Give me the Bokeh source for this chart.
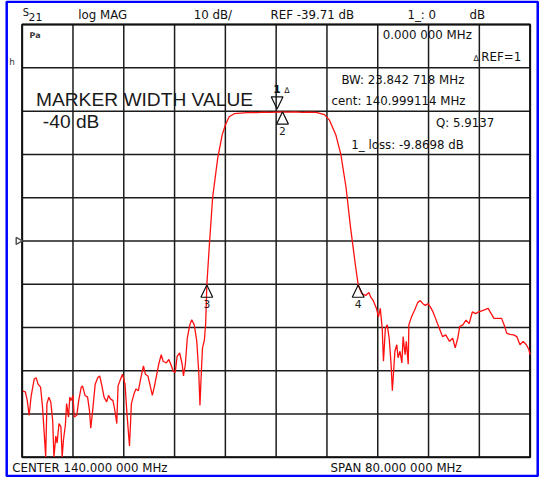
import math
from bokeh.plotting import figure
from bokeh.models import Label, BoxAnnotation, Range1d
from bokeh.embed import file_html
from bokeh.resources import INLINE

CENTER_MHZ = 140.0
SPAN_MHZ = 80.0
REF_DB = -39.71
SCALE_DB = 10.0
NDIV = 10

FREQ_MHZ = [
    100.1, 100.5, 100.8, 101.1, 101.4, 101.9, 102.2, 102.5, 102.9, 103.2,
    103.5, 103.7, 103.9, 104.2, 104.5, 104.8, 105.0, 105.3, 105.5, 105.8,
    106.1, 106.3, 106.5, 106.8, 107.0, 107.3, 107.5, 107.7, 108.0, 108.2,
    108.6, 108.9, 109.3, 109.5, 109.9, 110.3, 110.6, 110.8, 111.1, 111.5,
    111.9, 112.2, 112.5, 112.9, 113.3, 113.6, 113.9, 114.3, 114.6, 114.9,
    115.1, 115.5, 115.8, 116.2, 116.5, 116.9, 117.2, 117.6, 117.9, 118.3,
    118.7, 119.1, 119.4, 119.8, 120.1, 120.5, 120.8, 121.2, 121.5, 121.9,
    122.2, 122.7, 123.1, 123.4, 123.8, 124.1, 124.4, 124.8, 125.2, 125.4,
    125.7, 126.0, 126.4, 126.7, 127.1, 127.5, 127.8, 128.0, 128.2, 128.4,
    128.7, 128.9, 129.0, 129.08, 129.5, 130.0, 130.8, 131.5, 132.0, 132.6,
    133.4, 134.9, 136.0, 137.0, 138.0, 139.0, 140.15, 141.0, 142.0, 143.0,
    144.0, 145.0, 146.3, 147.6, 148.4, 149.4, 150.2, 151.0, 151.7, 152.5,
    152.92, 153.5, 154.1, 154.6, 154.9, 155.3, 155.8, 156.1, 156.4, 156.7,
    156.9, 157.2, 157.5, 157.8, 158.1, 158.3, 158.5, 158.7, 159.0, 159.2,
    159.5, 159.8, 160.0, 160.3, 160.5, 160.8, 160.9, 161.3, 161.8, 162.3,
    162.7, 163.1, 163.5, 163.9, 164.3, 164.7, 165.1, 165.4, 165.8, 166.2,
    166.7, 167.3, 167.8, 168.2, 168.6, 168.9, 169.4, 169.9, 170.4, 170.9,
    171.4, 171.9, 172.7, 173.4, 173.7, 174.3, 174.9, 175.5, 176.0, 176.3,
    176.8, 177.4, 177.9, 178.4, 178.9, 179.4, 179.8, 180.0,
]
S21_DB = [
    -74.4, -74.6, -76.6, -80.0, -75.7, -71.6, -71.3, -72.8, -73.5, -78.0,
    -84.8, -89.6, -77.3, -75.8, -76.9, -81.1, -89.6, -84.8, -86.4, -81.9,
    -82.6, -89.6, -85.7, -82.3, -77.3, -80.4, -75.8, -76.6, -75.4, -80.4,
    -80.0, -76.6, -73.5, -73.2, -75.4, -75.8, -78.9, -83.0, -78.9, -72.8,
    -71.3, -70.9, -72.8, -75.8, -76.9, -75.4, -76.2, -76.6, -78.9, -81.9,
    -73.2, -71.6, -70.5, -72.8, -79.6, -87.1, -77.3, -75.1, -73.9, -74.3,
    -71.3, -68.6, -70.5, -70.9, -72.8, -75.4, -73.5, -70.5, -68.2, -66.0,
    -67.5, -67.9, -67.1, -68.2, -69.8, -70.1, -66.4, -65.6, -68.2, -70.9,
    -68.2, -62.2, -59.1, -57.9, -59.1, -62.9, -69.8, -77.7, -70.5, -64.4,
    -62.6, -58.8, -54.0, -49.87, -40.2, -29.6, -20.5, -15.2, -12.9, -11.0,
    -10.3, -10.1, -10.0, -10.05, -9.95, -10.0, -9.92, -9.87, -9.95, -9.9,
    -10.0, -9.92, -10.0, -10.5, -11.8, -15.2, -19.8, -27.3, -36.4, -45.5,
    -49.87, -51.9, -52.3, -51.6, -52.7, -53.5, -55.3, -57.3, -55.3, -59.9,
    -67.5, -59.9, -59.1, -62.2, -68.2, -74.3, -69.8, -65.2, -63.7, -66.7,
    -65.2, -67.9, -61.8, -66.0, -62.9, -68.2, -59.1, -57.3, -55.7, -53.9,
    -53.5, -54.2, -54.6, -54.2, -55.0, -56.1, -57.6, -58.8, -60.3, -61.8,
    -61.4, -62.9, -62.2, -64.4, -62.2, -59.5, -59.1, -58.0, -58.8, -56.1,
    -56.5, -56.1, -55.7, -55.3, -56.1, -57.6, -57.6, -57.6, -59.5, -61.0,
    -61.3, -61.4, -61.8, -63.7, -62.9, -63.7, -64.8, -66.0,
]

MARKER_IDS = ["1", "2", "3", "4"]
MARKER_FREQ = [140.15, 141.0, 129.08, 152.92]
MARKER_DB = [-9.92, -9.87, -49.87, -49.87]
MARKER_DOWN = [True, False, False, False]

HEADER = ["log MAG", "10 dB/", "REF -39.71 dB", "1_: 0", "dB"]
PANEL = ["0.000 000 MHz", "REF=1", "BW:  23.842 718 MHz",
         "cent:  140.999114 MHz", "Q: 5.9137", "1_ loss: -9.8698 dB"]
FOOTER = ["CENTER  140.000 000 MHz", "SPAN  80.000 000 MHz"]
NOTE = ["MARKER WIDTH VALUE", "-40 dB"]

# ---------------- derived scales ----------------
f_start = CENTER_MHZ - SPAN_MHZ / 2
f_stop = CENTER_MHZ + SPAN_MHZ / 2
db_top = REF_DB + SCALE_DB * NDIV / 2
db_bot = REF_DB - SCALE_DB * NDIV / 2
FREQ_TICKS = [f_start + i * SPAN_MHZ / NDIV for i in range(NDIV + 1)]
DB_TICKS = [db_bot + i * SCALE_DB for i in range(NDIV + 1)]

# ---------------- layout (reference-screen pixel geometry) ----------------
W, H = 539, 477          # canvas size
RW, RH = 547, 485        # screen size being reproduced
GL, GR, GT, GB = 22.0, 537.5, 24.5, 464.5
XS = (GR - GL) / SPAN_MHZ            # screen px per MHz
YS = (GB - GT) / (db_top - db_bot)   # screen px per dB
x0 = f_start - GL / XS
x1 = x0 + RW / XS
y1 = db_top + GT / YS
y0 = y1 - RH / YS
FS = W / RW   # font scale


def px(x):
    return x0 + x / XS


def py(y):
    return y1 - y / YS


def fsz(s):
    return f"{s * FS:.1f}px"


p = figure(width=W, height=H, x_range=Range1d(x0, x1), y_range=Range1d(y0, y1),
           output_backend="svg", toolbar_location=None, min_border=0,
           x_axis_type=None, y_axis_type=None, outline_line_color=None,
           background_fill_color="white", border_fill_color="white")
p.grid.visible = False

# grid
p.segment(x0=FREQ_TICKS, y0=[db_bot] * len(FREQ_TICKS), x1=FREQ_TICKS,
          y1=[db_top] * len(FREQ_TICKS), line_color="#1c1c1c", line_width=1.5)
p.segment(x0=[f_start] * len(DB_TICKS), y0=DB_TICKS, x1=[f_stop] * len(DB_TICKS),
          y1=DB_TICKS, line_color="#1c1c1c", line_width=1.5)
p.quad(left=[f_start], right=[f_stop], top=[db_top], bottom=[db_bot],
       fill_alpha=0, line_color="#111111", line_width=2)

# trace
p.line(FREQ_MHZ, S21_DB, line_color="#ff1010", line_width=1.3)

# markers
hw = 6.0 / XS
th = 12.5 / YS
gap = 3.0 / YS
xs, ys = [], []
for f, d, dn in zip(MARKER_FREQ, MARKER_DB, MARKER_DOWN):
    if dn:
        xs.append([f - hw, f + hw, f])
        ys.append([d + gap + th, d + gap + th, d + gap])
    else:
        xs.append([f - hw, f + hw, f])
        ys.append([d - th, d - th, d])
p.patches(xs, ys, fill_alpha=0, line_color="#111111", line_width=1.2)

for mid, f, d, dn in zip(MARKER_IDS, MARKER_FREQ, MARKER_DB, MARKER_DOWN):
    if dn:
        ly = d + gap + th + 7.5 / YS
        p.add_layout(Label(x=f, y=ly, text=mid, text_font="DejaVu Sans",
                           text_font_size=fsz(11), text_font_style="bold",
                           text_align="center", text_baseline="middle",
                           text_color="#111111"))
        p.add_layout(Label(x=f + 10 / XS, y=ly - 1 / YS, text="\u0394",
                           text_font="DejaVu Sans", text_font_size=fsz(8),
                           text_align="center", text_baseline="middle",
                           text_color="#111111"))
    else:
        ly = d - th - 7.0 / YS
        p.add_layout(Label(x=f, y=ly, text=mid, text_font="DejaVu Sans",
                           text_font_size=fsz(11), text_align="center",
                           text_baseline="middle", text_color="#222222"))

# reference position arrow on the left edge
p.scatter(x=[px(18)], y=[REF_DB], marker="triangle", size=7, angle=-math.pi / 2,
          fill_color="white", line_color="#555555", line_width=1.5)

# blue outer frame
p.add_layout(BoxAnnotation(left=px(6.3), right=px(545.2), top=py(1.2), bottom=py(483.5),
                           fill_alpha=0, line_color="#0000ff", line_alpha=1.0,
                           line_width=2.5))


def lab(text, xr, yr, size=12, font="DejaVu Sans", color="#111111", style="normal"):
    p.add_layout(Label(x=px(xr), y=py(yr), text=text, text_font=font,
                       text_font_size=fsz(size), text_font_style=style,
                       text_align="left", text_baseline="middle", text_color=color))


# header
lab("S", 22.5, 12.5, 10)
lab("21", 28.5, 16.5, 11)
for t, xr in zip(HEADER, [79, 196, 274, 413, 476]):
    lab(t, xr, 14.5, 12)

# panel text
lab(PANEL[0], 388, 35.5, 12)
lab("\u0394", 480, 58.5, 8)
lab(PANEL[1], 488, 57.5, 12)
lab(PANEL[2], 346, 80.5, 12)
lab(PANEL[3], 336, 102, 12)
lab(PANEL[4], 442, 124.5, 12)
lab(PANEL[5], 356, 147, 12)

# big note
lab(NOTE[0], 36, 100.5, 19.5, font="Liberation Sans", color="#1a1a1a")
lab(NOTE[1], 43, 123.5, 19.5, font="Liberation Sans", color="#1a1a1a")

# small icon and stray glyph
lab("Pa", 29.5, 35.5, 8, color="#333333", style="bold")
lab("h", 9.0, 63, 9, color="#333333")

# footer
lab(FOOTER[0], 12, 475.5, 12)
lab(FOOTER[1], 335, 475.5, 12)

open("out.html", "w").write(file_html(p, INLINE))
